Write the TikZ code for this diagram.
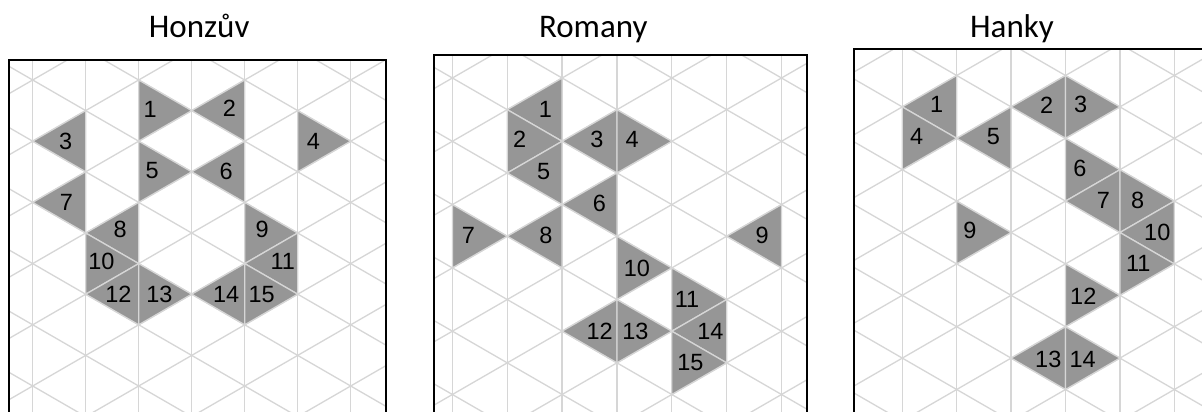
\documentclass[tikz,border=0pt]{standalone}
\usepackage{fontspec}
\setmainfont{Liberation Sans}
\newfontfamily\titlefont{Carlito}
\definecolor{gridgray}{RGB}{214,214,214}
\definecolor{trigray}{RGB}{150,150,150}
\tikzset{
  gridline/.style={draw=gridgray, line width=1.3pt},
  trishape/.style={fill=trigray, draw=gridgray, line width=1.3pt},
  lbl/.style={inner sep=0pt, font=\fontsize{23.5}{28}\selectfont},
  ttl/.style={anchor=base, inner sep=0pt, font=\titlefont\fontsize{33}{40}\selectfont},
  boxline/.style={draw=black, line width=2pt},
}
% #1 name, #2 column, #3 half-row, #4 direction, #5 label, #6 x offset, #7 y offset
\newcommand\tri[7]{%
  \filldraw[trishape] (#2,#3) -- (#2,#3+2) -- (#2+#4,#3+1) -- cycle;
  \node[lbl, xshift={(#4)*(#6)*1pt}, yshift={-(#7)*1pt}] (#1) at (#2,#3+1) {#5};
}
\newcommand\trigrid{%
  \foreach \c in {-2,...,9} \draw[gridline] (\c,-5) -- (\c,17);
  \foreach \k in {-8,...,14} {
    \draw[gridline] (-3,2*\k-3) -- (10,2*\k+10);
    \draw[gridline] (-3,2*\k+3) -- (10,2*\k-10);
  }
}
\begin{document}
\begin{tikzpicture}[x=1pt,y=-1pt]
\useasboundingbox (0,0) rectangle (1202,412);
\clip (0,0) rectangle (1202,412);
\fill[white] (0,0) rectangle (1202,412);

% titles
\node[ttl] (t1) at (199.2,37.3) {Honzův};
\node[ttl] (t2) at (593.3,37.3) {Romany};
\node[ttl] (t3) at (1012,37.3) {Hanky};

% ---------- panel 1 ----------
\begin{scope}
\clip (9,60) rectangle (386,430);
\begin{scope}[shift={(32.7,80)}]
\begin{scope}[x={(53pt,0pt)}, y={(0pt,-30.6pt)}]
\trigrid
\tri{a1}{2}{0}{1}{1}{11.4}{-1.6}
\tri{a2}{4}{0}{-1}{2}{15.3}{-2.3}
\tri{a3}{1}{1}{-1}{3}{20}{0.5}
\tri{a4}{5}{1}{1}{4}{15.7}{0.5}
\tri{a5}{2}{2}{1}{5}{13.4}{-0.8}
\tri{a6}{4}{2}{-1}{6}{18.6}{-0.8}
\tri{a7}{1}{3}{-1}{7}{19.3}{0}
\tri{a8}{2}{4}{-1}{8}{18.6}{-3.7}
\tri{a9}{4}{4}{1}{9}{17.4}{-3.7}
\tri{a10}{1}{5}{1}{10}{15.7}{-2}
\tri{a11}{5}{5}{-1}{11}{15}{-2}
\tri{a12}{2}{6}{-1}{12}{20.3}{0}
\tri{a13}{2}{6}{1}{13}{20.7}{0}
\tri{a14}{4}{6}{-1}{14}{18.6}{0}
\tri{a15}{4}{6}{1}{15}{17}{0}
\end{scope}
\end{scope}
\end{scope}
\draw[boxline] (9,60) rectangle (386,440);

% ---------- panel 2 ----------
\begin{scope}
\clip (434,55) rectangle (806.7,430);
\begin{scope}[shift={(452.4,78)}]
\begin{scope}[x={(54.85pt,0pt)}, y={(0pt,-31.65pt)}]
\trigrid
\tri{b1}{2}{0}{-1}{1}{16.8}{0}
\tri{b2}{1}{1}{1}{2}{12.3}{-2}
\tri{b3}{3}{1}{-1}{3}{20}{-2}
\tri{b4}{3}{1}{1}{4}{15.1}{-2}
\tri{b5}{2}{2}{-1}{5}{18.5}{-1.3}
\tri{b6}{3}{3}{-1}{6}{17.6}{-1.3}
\tri{b7}{0}{4}{1}{7}{16}{-1.3}
\tri{b8}{2}{4}{-1}{8}{16.1}{-1.3}
\tri{b9}{6}{4}{-1}{9}{19.3}{-1.3}
\tri{b10}{3}{5}{1}{10}{20}{0.4}
\tri{b11}{4}{6}{1}{11}{15.3}{0}
\tri{b12}{3}{7}{-1}{12}{17.3}{0}
\tri{b13}{3}{7}{1}{13}{18.4}{0}
\tri{b14}{5}{7}{-1}{14}{16.2}{0}
\tri{b15}{4}{8}{1}{15}{18.6}{0}
\end{scope}
\end{scope}
\end{scope}
\draw[boxline] (434,55) rectangle (806.7,440);

% ---------- panel 3 ----------
\begin{scope}
\clip (854,49.3) rectangle (1240,430);
\begin{scope}[shift={(847.9,75.5)}]
\begin{scope}[x={(54.4pt,0pt)}, y={(0pt,-31.4pt)}]
\trigrid
\tri{c1}{2}{0}{-1}{1}{20}{-2}
\tri{c2}{4}{0}{-1}{2}{18.8}{-2}
\tri{c3}{4}{0}{1}{3}{15.2}{-2}
\tri{c4}{1}{1}{1}{4}{14.4}{-1.6}
\tri{c5}{3}{1}{-1}{5}{17.8}{-1.6}
\tri{c6}{4}{2}{1}{6}{14.5}{-1.4}
\tri{c7}{5}{3}{-1}{7}{16.6}{-1}
\tri{c8}{5}{3}{1}{8}{17.8}{-1}
\tri{c9}{2}{4}{1}{9}{13.3}{-2.5}
\tri{c10}{6}{4}{-1}{10}{17}{0}
\tri{c11}{5}{5}{1}{11}{18.4}{0}
\tri{c12}{4}{6}{1}{12}{17.8}{1.4}
\tri{c13}{4}{8}{-1}{13}{17.2}{1}
\tri{c14}{4}{8}{1}{14}{17.2}{1}
\end{scope}
\end{scope}
\end{scope}
\draw[boxline] (854,49.3) rectangle (1250,440);
\end{tikzpicture}
\end{document}
